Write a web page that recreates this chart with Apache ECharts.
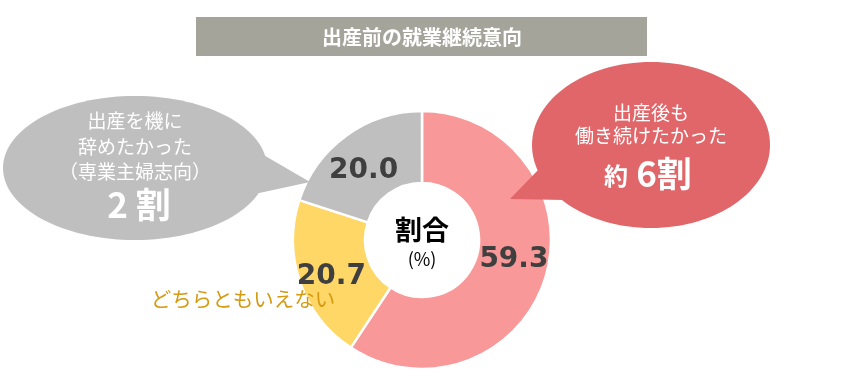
<!DOCTYPE html>
<html>
<head>
<meta charset="utf-8">
<script src="https://cdn.jsdelivr.net/npm/echarts@6/dist/echarts.min.js"></script>
<style>
html,body{margin:0;padding:0;background:#fff;}
#c{width:846px;height:390px;}
</style>
</head>
<body>
<div id="c"></div>
<script>
const categories = ['出産後も働き続けたかった', 'どちらともいえない', '出産を機に辞めたかった'];
const values = [59.3, 20.7, 20.0];
const colors = ['#F99898', '#FED766', '#BFBFBF'];
const titleText = '出産前の就業継続意向';
const leftBubbleLines = ['出産を機に', '辞めたかった', '（専業主婦志向）'];
const leftBubbleBig = '2 割';
const rightBubbleLines = ['出産後も', '働き続けたかった'];
const rightBubbleBig = ['約', '6割'];
const middleLabel = 'どちらともいえない';
const centerTitle = '割合';
const centerUnit = '(%)';

const JP = '"Noto Sans CJK JP", "Noto Sans", sans-serif';
const labelOffsets = [[0, -8], [0, 5], [-2, 8]];
const chart = echarts.init(document.getElementById('c'));

const leftLineEls = leftBubbleLines.map((t, i) => ({
  type: 'text', z: 101,
  style: { text: t, x: 135, y: 121 + i * 25.5, textAlign: 'center', textVerticalAlign: 'middle',
    fill: '#FFFFFF', font: '19px ' + JP }
}));
const rightLineEls = rightBubbleLines.map((t, i) => ({
  type: 'text', z: 101,
  style: { text: t, x: 651, y: 113 + i * 22.5, textAlign: 'center', textVerticalAlign: 'middle',
    fill: '#FFFFFF', font: '19px ' + JP }
}));

chart.setOption({
  animation: false,
  series: [{
    type: 'pie',
    center: [422, 240],
    radius: [57, 129],
    startAngle: 90,
    clockwise: true,
    silent: true,
    itemStyle: { borderColor: '#FFFFFF', borderWidth: 2.5 },
    label: {
      show: true, position: 'inside',
      formatter: p => p.value.toFixed(1),
      fontSize: 28, fontWeight: 'bold', color: '#3F3F3F',
      fontFamily: '"DejaVu Sans", sans-serif'
    },
    labelLine: { show: false },
    data: categories.map((c, i) => ({ name: c, value: values[i], itemStyle: { color: colors[i] },
      label: { offset: labelOffsets[i] } }))
  }],
  graphic: [
    { type: 'rect', z: 100, shape: { x: 196, y: 17, width: 451, height: 39 }, style: { fill: '#A5A49B' } },
    { type: 'text', z: 101, style: { text: titleText, x: 422, y: 37, textAlign: 'center', textVerticalAlign: 'middle',
      fill: '#FFFFFF', font: 'bold 20px ' + JP } },
    // left bubble
    { type: 'ellipse', z: 100, shape: { cx: 135, cy: 168, rx: 132, ry: 72 }, style: { fill: '#BFBFBF' } },
    { type: 'polygon', z: 100, shape: { points: [[255, 150], [310, 182], [250, 195]] }, style: { fill: '#BFBFBF' } },
    ...leftLineEls,
    { type: 'text', z: 101, style: { text: leftBubbleBig, x: 139, y: 205, textAlign: 'center', textVerticalAlign: 'middle',
      fill: '#FFFFFF', font: 'bold 35px ' + JP } },
    // right bubble
    { type: 'ellipse', z: 100, shape: { cx: 651, cy: 145, rx: 119, ry: 83 }, style: { fill: '#E0666A' } },
    { type: 'polygon', z: 100, shape: { points: [[540, 168], [510, 199], [565, 200]] }, style: { fill: '#E0666A' } },
    ...rightLineEls,
    { type: 'text', z: 101, style: { text: rightBubbleBig[0], x: 616, y: 176, textAlign: 'center', textVerticalAlign: 'middle',
      fill: '#FFFFFF', font: 'bold 24px ' + JP } },
    { type: 'text', z: 101, style: { text: rightBubbleBig[1], x: 664, y: 174, textAlign: 'center', textVerticalAlign: 'middle',
      fill: '#FFFFFF', font: 'bold 35px ' + JP } },
    // middle label
    { type: 'text', z: 101, style: { text: middleLabel, x: 243, y: 299, textAlign: 'center', textVerticalAlign: 'middle',
      fill: '#D59A12', font: '20.5px ' + JP } },
    // center text
    { type: 'text', z: 101, style: { text: centerTitle, x: 422, y: 230, textAlign: 'center', textVerticalAlign: 'middle',
      fill: '#000000', font: 'bold 27px ' + JP } },
    { type: 'text', z: 101, style: { text: centerUnit, x: 422, y: 259, textAlign: 'center', textVerticalAlign: 'middle',
      fill: '#000000', font: '18px ' + JP } }
  ]
});
</script>
</body>
</html>
